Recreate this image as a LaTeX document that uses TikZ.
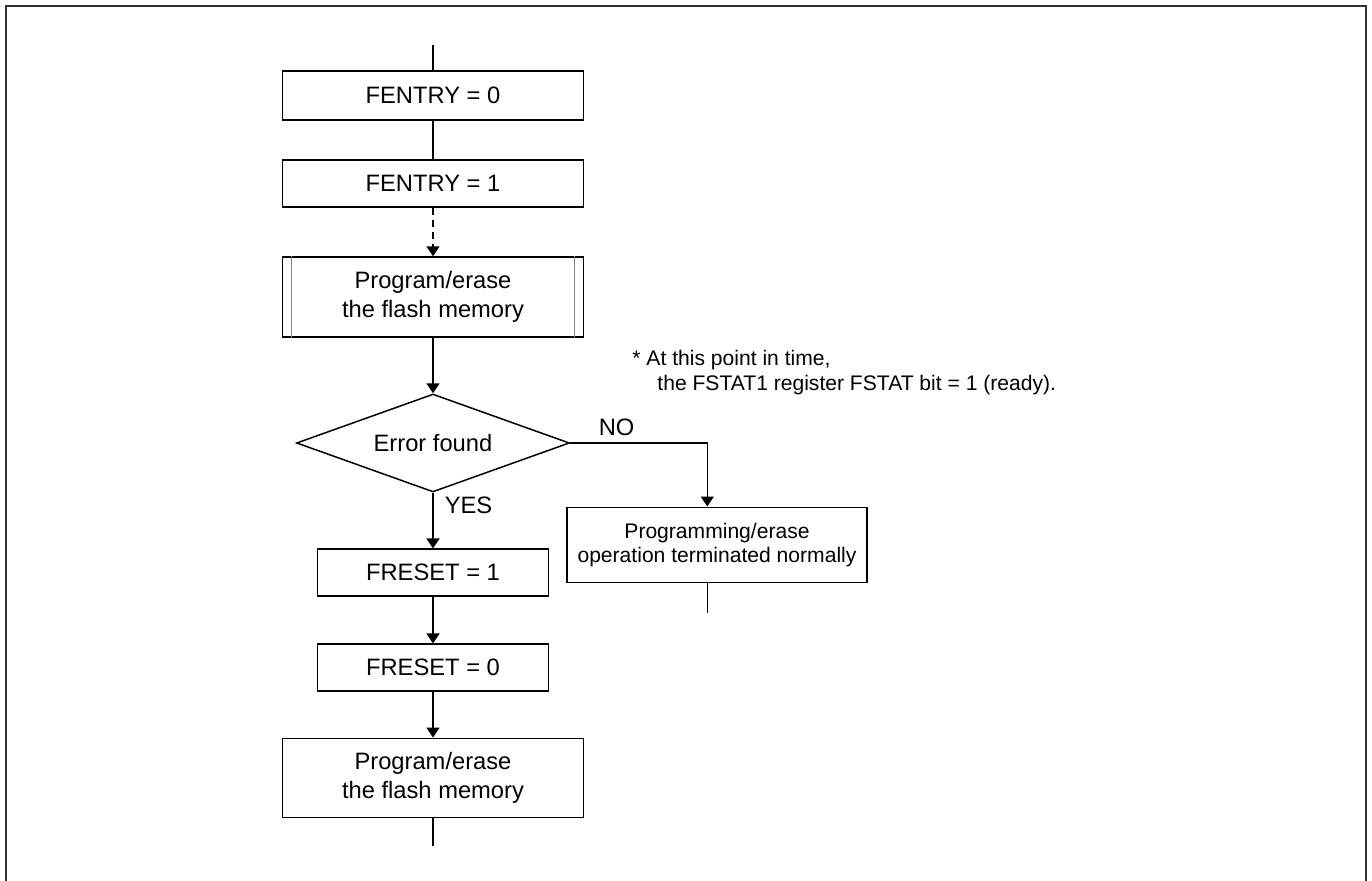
\documentclass[tikz,border=0pt]{standalone}
\usepackage{fontspec}
\setmainfont{Liberation Sans}
\usetikzlibrary{positioning, shapes.geometric, arrows.meta}
\definecolor{framegray}{RGB}{50, 50, 50}
\definecolor{innergray}{RGB}{130, 130, 130}

\begin{document}
\begin{tikzpicture}[x=0.02cm, y=-0.02cm, line width=0.85pt,
    arr/.style={-{Triangle[length=0.2cm, width=0.26cm]}},
    procbox/.style={draw, align=center, inner sep=0pt, font=\fontsize{13.5}{16.5}\selectfont},
    smallbox/.style={procbox, font=\fontsize{12}{13.7}\selectfont},
    lbl/.style={anchor=base west, inner sep=0pt, font=\fontsize{13.5}{16.5}\selectfont}]
                \useasboundingbox (0,0) rectangle (1372,881);
                % Frame (open at the bottom)
                \draw[framegray, line width=1.2pt] (6,881) -- (6,6) -- (1366,6) -- (1366,881);

                % Main column
                \node[procbox, minimum width=6.02cm, minimum height=0.98cm] (fentry0) at (433,95.5) {FENTRY = 0};
                \node[procbox, minimum width=6.02cm, minimum height=0.94cm] (fentry1) at (433,183.5) {FENTRY = 1};
                \node[procbox, minimum width=6.02cm, minimum height=1.6cm] (prog1) at (433,297) {Program/erase\\the flash memory};
                \draw[innergray, line width=0.5pt] ([xshift=0.2cm]prog1.north west) -- ([xshift=0.2cm]prog1.south west);
                \draw[innergray, line width=0.5pt] ([xshift=-0.2cm]prog1.north east) -- ([xshift=-0.2cm]prog1.south east);
                \node[procbox, diamond, aspect=2.79, minimum width=5.46cm, minimum height=1.96cm] (errfound) at (433,443) {Error found};
                \node[procbox, minimum width=4.62cm, minimum height=0.94cm] (freset1) at (433,572.7) {FRESET = 1};
                \node[procbox, minimum width=4.62cm, minimum height=0.94cm] (freset0) at (433,667.7) {FRESET = 0};
                \node[procbox, minimum width=6.02cm, minimum height=1.58cm] (prog2) at (433,777.8) {Program/erase\\the flash memory};

                % Normal end branch
                \node[smallbox, minimum width=6.01cm, minimum height=1.51cm] (normalend) at (717,545) {Programming/erase\\operation terminated normally};

                % Connectors
                \coordinate (flowin) at (433,45);
                \coordinate (flowout) at (433,846);
                \coordinate (nocorner) at (707.3,443);
                \coordinate (normalout) at (707.3,612.7);
                \draw (flowin) -- (fentry0);
                \draw (fentry0) -- (fentry1);
                \draw[arr, dash pattern=on 0.14cm off 0.1cm] (fentry1) -- (prog1);
                \draw[arr] (prog1) -- (errfound);
                \draw[arr] (errfound) -- (freset1);
                \draw[arr] (freset1) -- (freset0);
                \draw[arr] (freset0) -- (prog2);
                \draw (prog2) -- (flowout);
                \draw[arr] (errfound.east) -- (nocorner) -- (nocorner |- normalend.north);
                \draw (nocorner |- normalend.south) -- (normalout);

                % Branch labels
                \node[lbl] (yeslbl) at (444,513) {YES};
                \node[lbl] (nolbl) at (598,436) {NO};

                % Note
                \node[anchor=base west, align=left, inner sep=0pt, font=\fontsize{12}{14.6}\selectfont] (note) at (631.7,390.7)
                    {* At this point in time,\\\hspace*{0.5cm}the FSTAT1 register FSTAT bit = 1 (ready).};
            \end{tikzpicture}
\end{document}
